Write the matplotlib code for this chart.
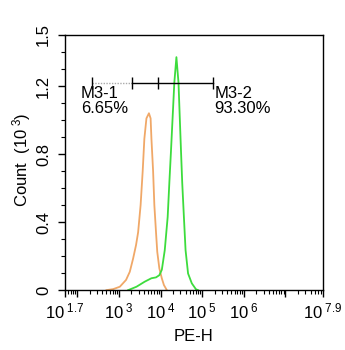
#!/usr/bin/env python3
"""Flow cytometry histogram: PE-H, two overlaid populations with a gate."""

import numpy as np
import matplotlib.pyplot as plt
from matplotlib.ticker import FixedLocator, NullFormatter

plt.rcParams["font.family"] = ["Liberation Sans", "DejaVu Sans"]
plt.rcParams["mathtext.fontset"] = "custom"
plt.rcParams["mathtext.rm"] = "Liberation Sans"
plt.rcParams["mathtext.it"] = "Liberation Sans:italic"

# --- data (log10 of PE-H, count in thousands) ---
ctrl_log = [2.70, 2.86, 3.02, 3.17, 3.26, 3.34, 3.41, 3.46, 3.52, 3.57, 3.61,
            3.66, 3.72, 3.76, 3.78, 3.82, 3.85, 3.89, 3.92, 3.97, 4.03, 4.08,
            4.15]
ctrl_count = [0, 0.006, 0.02, 0.06, 0.108, 0.186, 0.265, 0.34, 0.50, 0.70,
              0.89, 1.01, 1.04, 1.01, 0.89, 0.70, 0.50, 0.34, 0.225, 0.128,
              0.069, 0.03, 0]

sample_log = [3.22, 3.42, 3.62, 3.78, 3.89, 3.97, 4.03, 4.10, 4.17, 4.21,
              4.25, 4.29, 4.33, 4.38, 4.43, 4.46, 4.49, 4.52, 4.56, 4.60,
              4.66, 4.75, 4.85, 4.90]
sample_count = [0, 0.02, 0.05, 0.07, 0.075, 0.088, 0.12, 0.235, 0.43, 0.63,
                0.82, 1.02, 1.22, 1.37, 1.22, 1.02, 0.82, 0.63, 0.43, 0.235,
                0.098, 0.04, 0.005, 0]

gate_y = 1.22
gate_left = [2.35, 3.31, 3.94]   # start, end of dotted part, split
gate_right = 5.26
gate_names = ["M3-1", "M3-2"]
gate_pcts = ["6.65%", "93.30%"]

x_ticks = [1.7, 3, 4, 5, 6, 7.9]
y_ticks = [0, 0.4, 0.8, 1.2, 1.5]

fig = plt.figure(figsize=(3.45, 3.5), dpi=100)
ax = fig.add_axes([0.188, 0.171, 0.748, 0.729])

ax.plot(10 ** np.array(ctrl_log), ctrl_count, color="#f0a868", lw=1.3)
ax.plot(10 ** np.array(sample_log), sample_count, color="#3ddc3d", lw=1.3)

# gate bars
gx = 10 ** np.array(gate_left + [gate_right])
ax.plot(gx[:2], [gate_y] * 2, color="#aaaaaa", lw=1, ls=(0, (1, 1)))
ax.plot(gx[1:], [gate_y] * 3, color="black", lw=1)
ax.plot(gx, [gate_y] * 4, ls="none", marker="|", ms=8, mew=1, color="black")

ax.text(10 ** 2.08, 1.2, gate_names[0] + "\n" + gate_pcts[0], fontsize=12,
        va="top", ha="left", linespacing=1.0)
ax.text(10 ** 5.3, 1.2, gate_names[1] + "\n" + gate_pcts[1], fontsize=12,
        va="top", ha="left", linespacing=1.0)

ax.set_xscale("log")
ax.set_xlim(10 ** 1.7, 10 ** 7.9)
ax.set_ylim(0, 1.5)

major_x = [1.7, 2, 3, 4, 5, 6, 7, 7.9]
ax.xaxis.set_major_locator(FixedLocator([10 ** v for v in major_x]))
ax.set_xticklabels(["$10^{\\ %g}$" % v if v in x_ticks else "" for v in major_x])
minors = [m * 10 ** d for d in range(1, 8) for m in range(2, 10)
          if 10 ** 1.7 < m * 10 ** d < 10 ** 7.9]
ax.xaxis.set_minor_locator(FixedLocator(minors))
ax.xaxis.set_minor_formatter(NullFormatter())

ax.set_yticks(y_ticks)
ax.set_yticklabels(["0", "0.4", "0.8", "1.2", "1.5"], rotation=90, va="center")
ax.set_yticks(np.arange(0, 1.51, 0.1), minor=True)

ax.tick_params(which="major", length=5, width=1, labelsize=12, direction="out")
ax.tick_params(which="minor", length=3, width=0.8, direction="out")
ax.tick_params(axis="y", pad=5)

ax.set_xlabel("PE-H", fontsize=12, labelpad=5)
ax.set_ylabel("Count  (10$^{\\ 3}$)", fontsize=12, va="center")
ax.yaxis.set_label_coords(-0.167, 0.51)

for s in ax.spines.values():
    s.set_linewidth(1)

fig.savefig("out.png", dpi=100)
